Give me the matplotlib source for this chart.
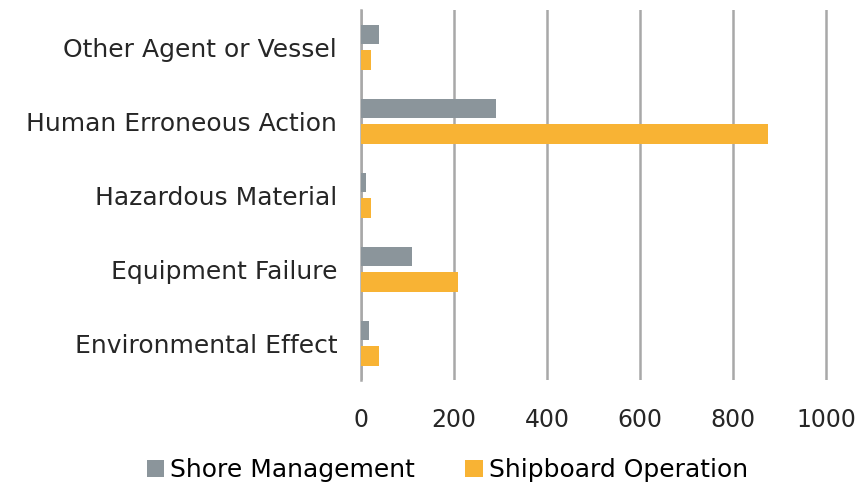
import numpy as np
import matplotlib
matplotlib.use("Agg")
import matplotlib.pyplot as plt

categories = ["Environmental Effect", "Equipment Failure", "Hazardous Material",
              "Human Erroneous Action", "Other Agent or Vessel"]
shore = [17, 110, 11, 291, 40]
shipboard = [40, 209, 23, 876, 23]

plt.rcParams['font.family'] = ['DejaVu Sans']

fig = plt.figure(figsize=(8.57, 4.83), dpi=100)
ax = fig.add_axes([0.421, 0.213, 0.545, 0.766])

y = np.arange(len(categories))
h = 0.26
off = 0.175
ax.barh(y + off, shore, height=h, color="#8b959b", label="Shore Management", zorder=3)
ax.barh(y - off, shipboard, height=h, color="#f8b334", label="Shipboard Operation", zorder=3)

ax.set_xlim(0, 1004)
ax.set_ylim(-0.5, 4.5)
ax.set_xticks(range(0, 1001, 200))
ax.set_yticks(y)
ax.set_yticklabels(categories)
ax.grid(axis="x", color="#a8a8a8", linewidth=1.8, zorder=0)
for s in ["top", "right", "bottom"]:
    ax.spines[s].set_visible(False)
ax.spines["left"].set_color("#a8a8a8")
ax.spines["left"].set_linewidth(1.8)
ax.tick_params(axis="both", length=0, colors="#262626")
ax.tick_params(axis="x", pad=20, labelsize=17)
ax.tick_params(axis="y", pad=17, labelsize=18)

fig.legend(loc="lower center", ncol=2, frameon=False, fontsize=18,
           handlelength=0.7, handleheight=0.7, handletextpad=0.25,
           columnspacing=2.0, bbox_to_anchor=(0.522, -0.045))

fig.savefig("out.png", dpi=100)
